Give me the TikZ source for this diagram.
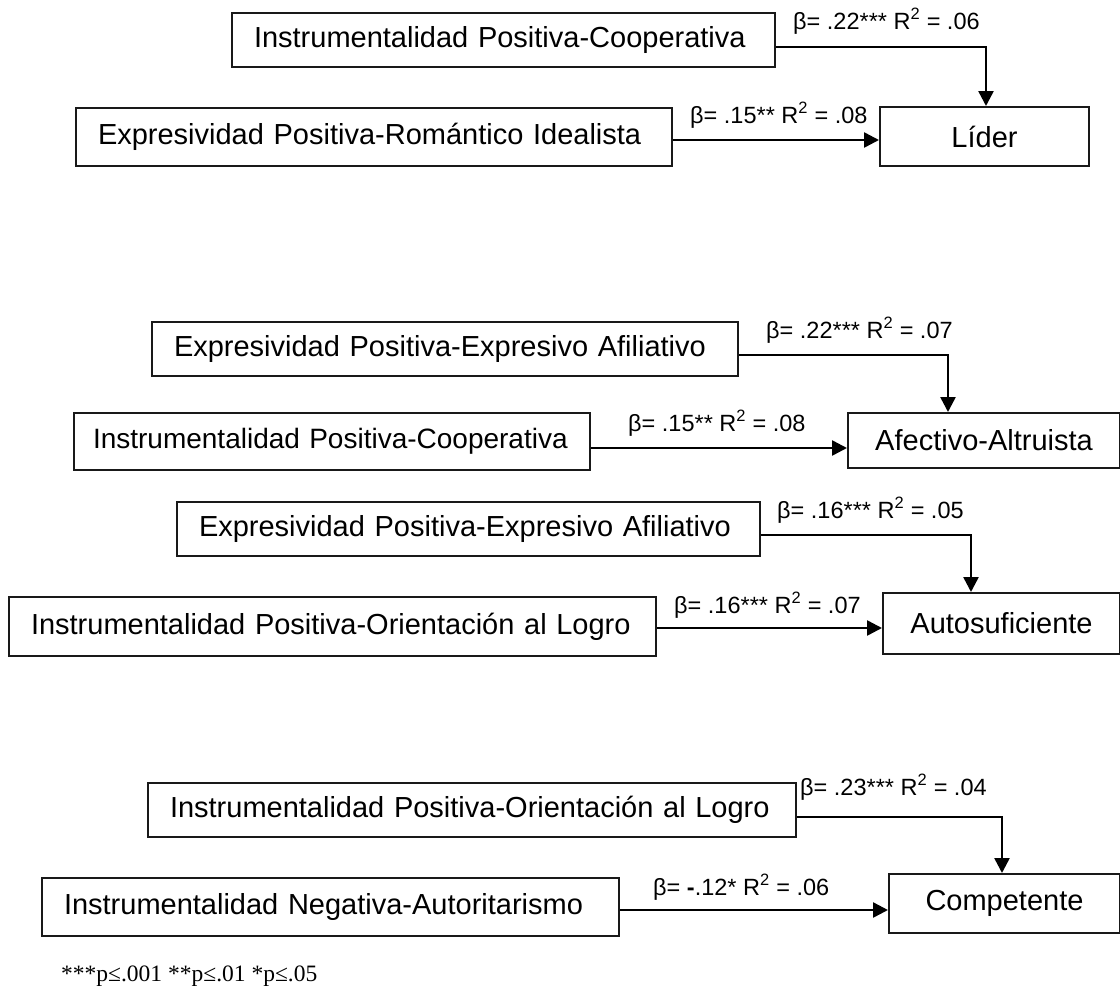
\documentclass[tikz,border=0pt]{standalone}
\usepackage{fontspec}
\setmainfont{Liberation Sans}
\newfontfamily\notefont{Liberation Serif}
\usetikzlibrary{arrows.meta,calc}
\begin{document}
\begin{tikzpicture}[x=1pt,y=-1pt,
  box/.style={draw=black!90, line width=2pt, inner xsep=22pt, inner ysep=0pt,
    anchor=west, font=\fontsize{29}{32}\selectfont},
  lbox/.style={box, align=left},
  cbox/.style={box, align=center, inner xsep=0pt},
  lab/.style={inner sep=0pt, anchor=base west, font=\fontsize{23.5}{26}\selectfont},
  arr/.style={line width=2.5pt, -{Triangle[length=15pt,width=15pt]}},
  note/.style={inner sep=0pt, anchor=base west, font=\notefont\fontsize{23.5}{26}\selectfont}
]
\useasboundingbox (0,0) rectangle (1120,986);

% ---- Section 1: Lider
\node[lbox, text width=499pt, minimum height=54pt] (p1a) at (231,40) {Instrumentalidad Positiva-Cooperativa};
\node[lbox, text width=552pt, minimum height=58pt] (p1b) at (75,137) {Expresividad Positiva-Romántico Idealista};
\node[cbox, text width=209pt, minimum height=59pt] (o1) at (879,136.5) {Líder};
\coordinate (v1) at (986,0);
\draw[arr] ([yshift=-7pt]p1a.east) -| (v1 |- o1.north);
\draw[arr] ([yshift=-3pt]p1b.east) -- ([yshift=-3pt]p1b.east -| o1.west);
\node[lab] (l1a) at (793,29) {β= .22*** R\textsuperscript{2} = .06};
\node[lab] (l1b) at (690,123) {β= .15** R\textsuperscript{2} = .08};

% ---- Section 2: Afectivo-Altruista
\node[lbox, text width=542pt, minimum height=54pt] (p2a) at (151,349) {Expresividad Positiva-Expresivo Afiliativo};
\node[lbox, text width=478pt, inner xsep=19pt, minimum height=57pt, font=\fontsize{28}{31}\selectfont] (p2b) at (73,441.5) {Instrumentalidad Positiva-Cooperativa};
\node[cbox, text width=272pt, minimum height=55pt] (o2) at (847,440.5) {Afectivo-Altruista};
\coordinate (v2) at (948,0);
\draw[arr] ([yshift=-6pt]p2a.east) -| (v2 |- o2.north);
\draw[arr] ([yshift=-6.5pt]p2b.east) -- ([yshift=-6.5pt]p2b.east -| o2.west);
\node[lab] (l2a) at (766,338) {β= .22*** R\textsuperscript{2} = .07};
\node[lab] (l2b) at (628,431) {β= .15** R\textsuperscript{2} = .08};

% ---- Section 3: Autosuficiente
\node[lbox, text width=539pt, minimum height=54pt] (p3a) at (176,529) {Expresividad Positiva-Expresivo Afiliativo};
\node[lbox, text width=603pt, minimum height=59pt] (p3b) at (8,626.5) {Instrumentalidad Positiva-Orientación al Logro};
\node[cbox, text width=237pt, minimum height=61pt] (o3) at (882,623.5) {Autosuficiente};
\coordinate (v3) at (971,0);
\draw[arr] ([yshift=-6pt]p3a.east) -| (v3 |- o3.north);
\draw[arr] ([yshift=-1.5pt]p3b.east) -- ([yshift=-1.5pt]p3b.east -| o3.west);
\node[lab] (l3a) at (777,518) {β= .16*** R\textsuperscript{2} = .05};
\node[lab] (l3b) at (674,613) {β= .16*** R\textsuperscript{2} = .07};

% ---- Section 4: Competente
\node[lbox, text width=604pt, minimum height=54pt] (p4a) at (147,810) {Instrumentalidad Positiva-Orientación al Logro};
\node[lbox, text width=533pt, minimum height=58pt] (p4b) at (41,907) {Instrumentalidad Negativa-Autoritarismo};
\node[cbox, text width=231pt, minimum height=59pt] (o4) at (888,903.5) {Competente};
\coordinate (v4) at (1002,0);
\draw[arr] ([yshift=-7pt]p4a.east) -| (v4 |- o4.north);
\draw[arr] ([yshift=-3pt]p4b.east) -- ([yshift=-3pt]p4b.east -| o4.west);
\node[lab] (l4a) at (800,795) {β= .23*** R\textsuperscript{2} = .04};
\node[lab] (l4b) at (653,895) {β= \textbf{-}.12* R\textsuperscript{2} = .06};

\node[note] (fn) at (61,981) {***p≤.001 **p≤.01 *p≤.05};
\end{tikzpicture}
\end{document}
